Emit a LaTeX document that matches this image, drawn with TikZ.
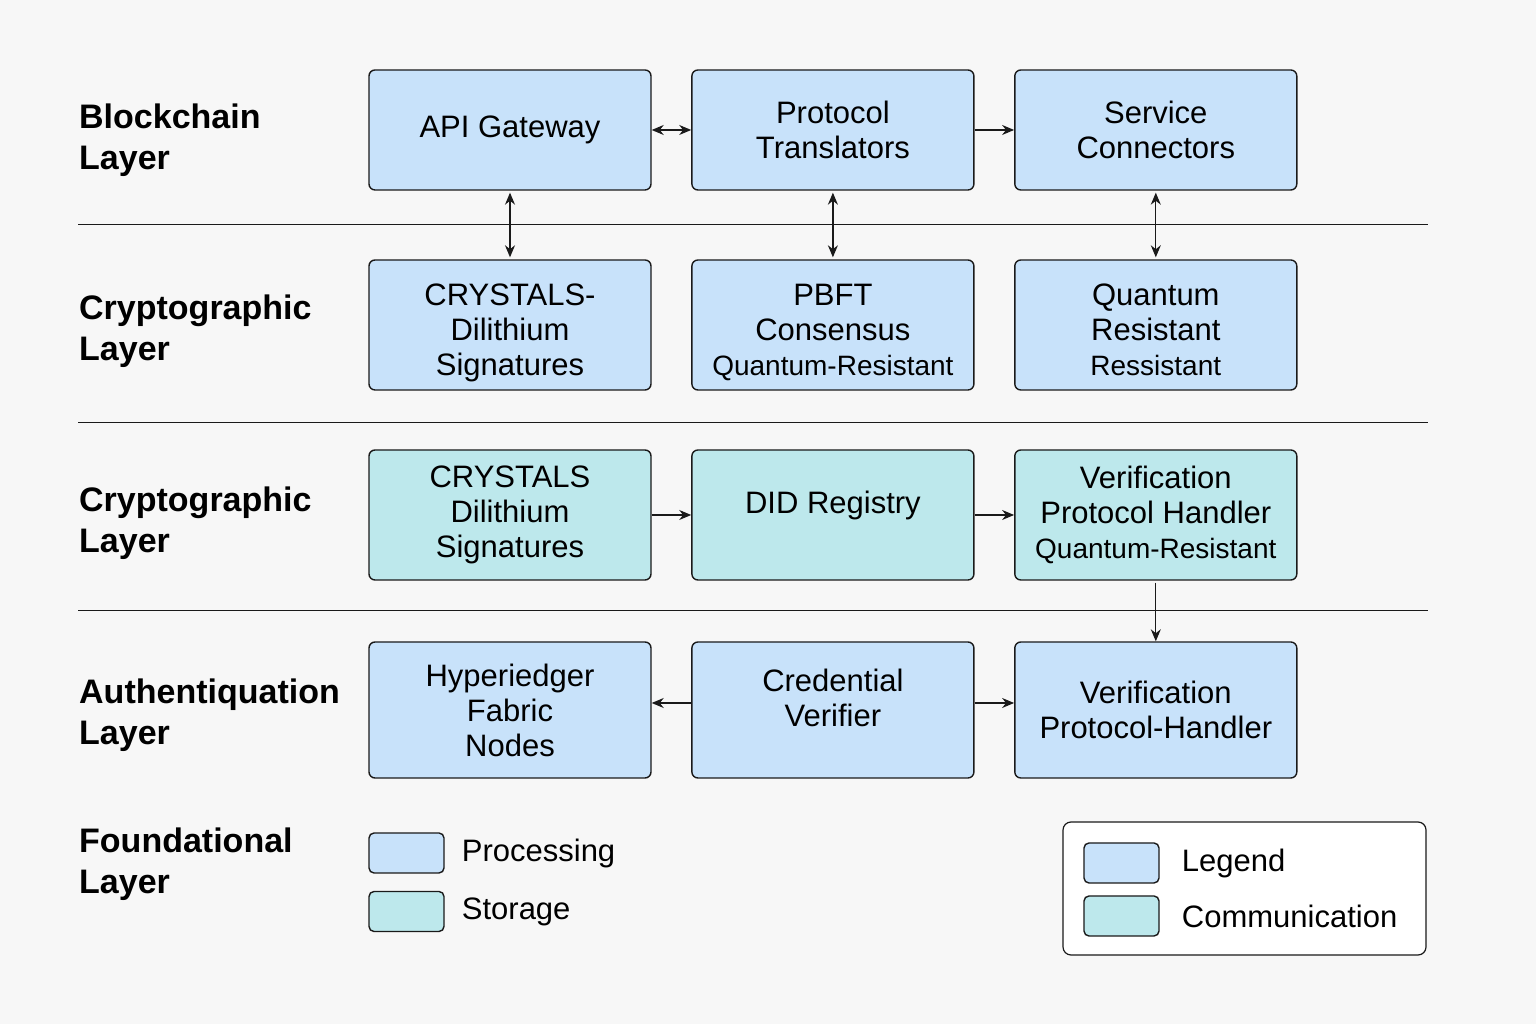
\documentclass[tikz,border=0pt]{standalone}
\usepackage{fontspec}
\setmainfont{Liberation Sans}
\usetikzlibrary{arrows.meta,positioning}
\definecolor{procblue}{HTML}{C8E2FA}
\definecolor{storteal}{HTML}{BDE8EC}
\definecolor{bgpaper}{HTML}{F7F7F7}
\definecolor{inkline}{HTML}{1A1A1A}
\newcommand{\smallline}[1]{{\fontsize{28pt}{34pt}\selectfont #1}}
\begin{document}
\begin{tikzpicture}[x=1pt,y=1pt,node distance=39.5pt,
    onetip/.style={-{Stealth[length=12pt,width=10pt]}},
    twotip/.style={{Stealth[length=12pt,width=10pt]}-{Stealth[length=12pt,width=10pt]}},
    box/.style={draw=inkline,line width=1.4pt,rounded corners=6pt,fill=procblue,
      minimum width=282pt,align=center,inner sep=0pt,
      font=\fontsize{31pt}{35pt}\selectfont},
    stor/.style={box,fill=storteal},
    layer/.style={anchor=west,align=left,inner sep=0pt,
      font=\fontsize{34pt}{41pt}\selectfont\bfseries},
    swatch/.style={draw=inkline,line width=1.4pt,rounded corners=5pt,
      minimum width=75pt,minimum height=40pt,inner sep=0pt},
    keytext/.style={anchor=west,inner sep=0pt,font=\fontsize{31pt}{35pt}\selectfont}]
   \useasboundingbox[fill=bgpaper] (0,0) rectangle (1536,1024);
   % layer labels
   \node[layer] (l_block)  at (79,884) {Blockchain\\Layer};
   \node[layer] (l_crypt1) at (79,693) {Cryptographic\\Layer};
   \node[layer] (l_crypt2) at (79,501) {Cryptographic\\Layer};
   \node[layer] (l_auth)   at (79,309) {Authentiquation\\Layer};
   \node[layer] (l_found)  at (79,160) {Foundational\\Layer};
   % separators
   \draw[inkline,line width=1pt] (78,799) -- (1428,799);
   \draw[inkline,line width=1pt] (78,601) -- (1428,601);
   \draw[inkline,line width=1pt] (78,413) -- (1428,413);
   % row 1
   \node[box,minimum height=120pt] (api)   at (510,894) {API Gateway};
   \node[box,minimum height=120pt] (proto) [right=of api] {Protocol\\Translators};
   \node[box,minimum height=120pt] (svc)   [right=of proto] {Service\\Connectors};
   % row 2
   \node[box,minimum height=130pt] (dil)   at (510,699) {CRYSTALS-\\Dilithium\\Signatures\\[-45pt]};
   \node[box,minimum height=130pt] (pbft)  [right=of dil] {PBFT\\Consensus\\\smallline{Quantum-Resistant}\\[-45pt]};
   \node[box,minimum height=130pt] (qres)  [right=of pbft] {Quantum\\Resistant\\\smallline{Ressistant}\\[-45pt]};
   % row 3
   \node[stor,minimum height=130pt] (crys)  at (510,509) {CRYSTALS\\Dilithium\\Signatures};
   \node[stor,minimum height=130pt] (did)   [right=of crys] {DID Registry\\[-9pt]};
   \node[stor,minimum height=130pt] (verif) [right=of did] {Verification\\Protocol Handler\\\smallline{Quantum-Resistant}};
   % row 4
   \node[box,minimum height=136pt] (hyper) at (510,314) {Hyperiedger\\Fabric\\Nodes};
   \node[box,minimum height=136pt] (cred)  [right=of hyper] {Credential\\Verifier\\[-11pt]};
   \node[box,minimum height=136pt] (verph) [right=of cred] {Verification\\Protocol-Handler};
   % legend
   \node[swatch,fill=procblue] (sw_proc) at (406.5,171) {};
   \node[swatch,fill=storteal] (sw_stor) at (406.5,112.5) {};
   \node[keytext] (t_proc) [right=17pt of sw_proc] {Processing};
   \node[keytext] (t_stor) [right=17pt of sw_stor] {Storage};
   \draw[inkline,line width=1.2pt,rounded corners=8pt,fill=white] (1063,69) rectangle (1426,202);
   \node[swatch,fill=procblue] (sw_leg) at (1121.5,161) {};
   \node[swatch,fill=storteal] (sw_com) at (1121.5,108) {};
   \node[keytext] (t_leg) [right=22pt of sw_leg] {Legend};
   \node[keytext] (t_com) [right=22pt of sw_com] {Communication};
    \path[inkline,line width=1.2pt]
    (api) edge[twotip] (proto)
    (proto) edge[onetip] (svc)
    (api) edge[twotip, shorten <=2pt, shorten >=2pt] (dil)
    (proto) edge[twotip, shorten <=2pt, shorten >=2pt] (pbft)
    (svc) edge[twotip, shorten <=2pt, shorten >=2pt] (qres)
    (crys) edge[onetip] (did)
    (did) edge[onetip] (verif)
    (verif) edge[onetip, shorten <=2pt] (verph)
    ([yshift=7pt]cred.west) edge[onetip] ([yshift=7pt]hyper.east)
    ([yshift=7pt]cred.east) edge[onetip] ([yshift=7pt]verph.west);
\end{tikzpicture}
\end{document}
